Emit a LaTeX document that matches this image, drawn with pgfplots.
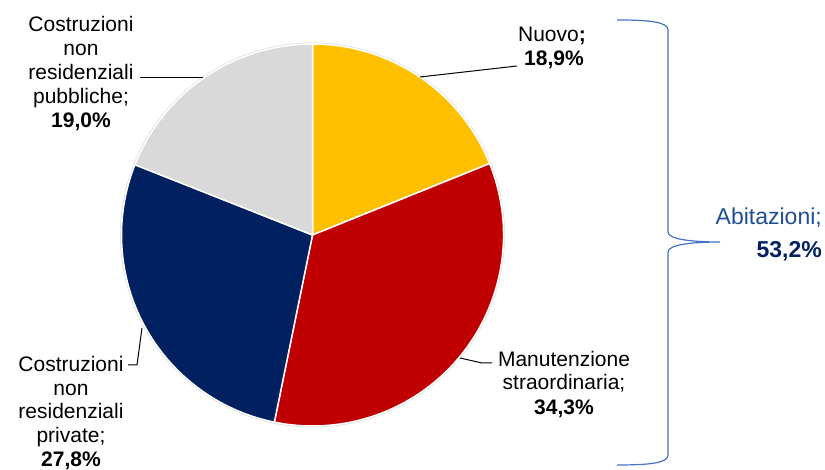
\documentclass[border=0pt]{standalone}
\usepackage{pgfplots}
\usepackage{pgfplotstable}
\pgfplotsset{compat=1.18}
\usepackage{fontspec}
\setmainfont{Liberation Sans}

\definecolor{cNuovo}{HTML}{FFC000}
\definecolor{cManut}{HTML}{C00000}
\definecolor{cPriv}{HTML}{002060}
\definecolor{cPubb}{HTML}{D9D9D9}
\definecolor{cBrace}{HTML}{4472C4}
\definecolor{cAbit}{HTML}{1F4E96}

% shares of the pie, clockwise from 12 o'clock
\pgfplotstableread[col sep=comma]{
name,pct
Nuovo,18.9
Manutenzione,34.3
Private,27.8
Pubbliche,19.0
}\pietable

\pgfplotstablegetelem{0}{pct}\of\pietable \let\pA\pgfplotsretval
\pgfplotstablegetelem{1}{pct}\of\pietable \let\pB\pgfplotsretval
\pgfplotstablegetelem{2}{pct}\of\pietable \let\pC\pgfplotsretval
\pgfplotstablegetelem{3}{pct}\of\pietable \let\pD\pgfplotsretval
\pgfmathsetmacro\aA{90-3.6*\pA}
\pgfmathsetmacro\aB{\aA-3.6*\pB}
\pgfmathsetmacro\aC{\aB-3.6*\pC}
\pgfmathsetmacro\aD{\aC-3.6*\pD}

\newcommand\slice[3]{% colour, start, end
  \fill[#1, draw=white, line width=1.5bp] (axis cs:312.5,235) -- ++(#2:191bp)
    arc[start angle=#2, end angle=#3, radius=191bp] -- cycle;}
\newcommand\lbl[4][]{% options, x, y, text
  \node[anchor=base, inner sep=0pt, #1] at (axis cs:#2,#3) {#4};}

\begin{document}
\begin{tikzpicture}
\begin{axis}[
    x=1bp, y=1bp,
    xmin=0, xmax=825,
    ymin=0, ymax=470,
    hide axis,
    clip=false,
    font=\fontsize{21bp}{24bp}\selectfont
]
\draw[black!12, line width=2bp] (axis cs:312.5,235) circle[radius=191.5bp];
\slice{cNuovo}{90}{\aA}
\slice{cManut}{\aA}{\aB}
\slice{cPriv}{\aB}{\aC}
\slice{cPubb}{\aC}{\aD}

% leader lines
\draw[black, line width=1bp] (axis cs:420,393) -- (axis cs:517,404);
\draw[black, line width=1bp] (axis cs:140,392) -- (axis cs:203,392);
\draw[black, line width=1bp] (axis cs:128,105) -- (axis cs:137,105) -- (axis cs:142,142);
\draw[black, line width=1bp] (axis cs:460,112) -- (axis cs:482,107) -- (axis cs:492,107);

% labels
\lbl{552}{428}{Nuovo\textbf{;}}
\lbl{554}{404}{\textbf{18,9\%}}

\lbl{564}{103}{Manutenzione}
\lbl{564}{80}{straordinaria;}
\lbl{564}{55}{\textbf{34,3\%}}

\lbl{71}{98}{Costruzioni}
\lbl{71}{74}{non}
\lbl{71}{51}{residenziali}
\lbl{71}{27}{private;}
\lbl{71}{3}{\textbf{27,8\%}}

\lbl{81}{438}{Costruzioni}
\lbl{81}{414}{non}
\lbl{81}{390}{residenziali}
\lbl{81}{366}{pubbliche;}
\lbl{81}{342}{\textbf{19,0\%}}

% brace for Abitazioni
\draw[cBrace, line width=1.2bp] (axis cs:617,450)
  .. controls (axis cs:650,450) and (axis cs:668,448) .. (axis cs:668,440)
  -- (axis cs:668,238)
  .. controls (axis cs:668,231) and (axis cs:690,228) .. (axis cs:720,228)
  .. controls (axis cs:690,228) and (axis cs:668,225) .. (axis cs:668,218)
  -- (axis cs:668,15)
  .. controls (axis cs:668,7) and (axis cs:650,5) .. (axis cs:617,5);
\lbl[anchor=base east, text=cAbit, font=\fontsize{23bp}{26bp}\selectfont]{822}{245}{Abitazioni;}
\lbl[anchor=base east, text=cPriv, font=\fontsize{23bp}{26bp}\selectfont]{822}{212}{\textbf{53,2\%}}
\end{axis}
\pgfresetboundingbox
\path (current axis.south west) rectangle (current axis.north east);
\end{tikzpicture}
\end{document}
